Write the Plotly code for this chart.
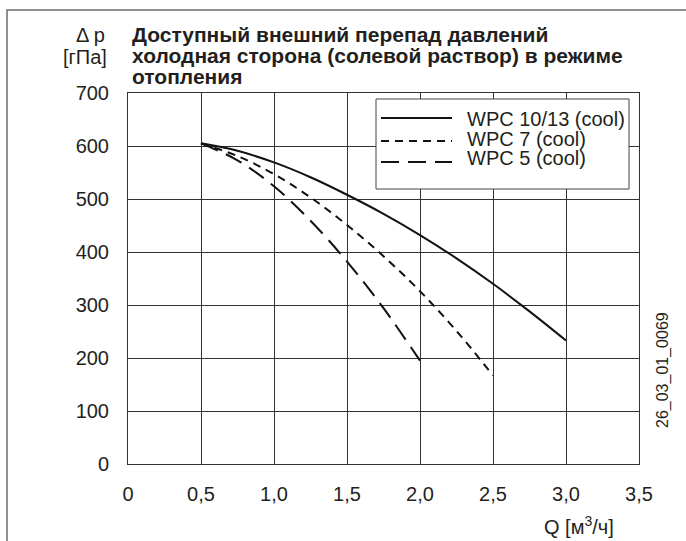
import plotly.graph_objects as go

# Available external pressure drop, cold (brine) side, heating mode
series_names = ["WPC 10/13 (cool)", "WPC 7 (cool)", "WPC 5 (cool)"]

q_wpc10 = [0.5, 0.75, 1.0, 1.25, 1.5, 1.75, 2.0, 2.25, 2.5, 2.75, 3.0]
dp_wpc10 = [605, 591, 569, 541, 508, 472, 432, 388, 340, 288, 233]

q_wpc7 = [0.5, 0.75, 1.0, 1.25, 1.5, 1.75, 2.0, 2.25, 2.5]
dp_wpc7 = [605, 581, 547, 503, 451, 392, 326, 251, 167]

q_wpc5 = [0.5, 0.75, 1.0, 1.25, 1.5, 1.75, 2.0]
dp_wpc5 = [605, 573, 524, 459, 382, 294, 195]

x_tickvals = [0, 0.5, 1.0, 1.5, 2.0, 2.5, 3.0, 3.5]
x_ticktext = ["0", "0,5", "1,0", "1,5", "2,0", "2,5", "3,0", "3,5"]
y_tickvals = [0, 100, 200, 300, 400, 500, 600, 700]
y_ticktext = ["0", "100", "200", "300", "400", "500", "600", "700"]

W, H = 686, 541
L, R, T, B = 128, 639, 93, 464  # plot area in pixels

FONT = "Liberation Sans, Arial, sans-serif"
INK = "#231f20"
GRID = "#333333"
FS = 20
dash_styles = ["solid", "8px,6px", "18px,9px"]


def px(x):
    return (x - L) / (R - L)


def py(y):
    return (B - y) / (B - T)


fig = go.Figure()
for name, q, dp, dash in zip(series_names,
                             [q_wpc10, q_wpc7, q_wpc5],
                             [dp_wpc10, dp_wpc7, dp_wpc5],
                             dash_styles):
    fig.add_trace(go.Scatter(
        x=q, y=dp, name=name, mode="lines",
        line=dict(color="#111111", width=2, dash=dash, shape="spline", smoothing=1.0),
        showlegend=False, hoverinfo="skip",
    ))

shapes = []
annotations = []

# outer frame of the figure
shapes.append(dict(type="rect", xref="paper", yref="paper",
                   x0=px(7), x1=px(W + 20), y0=py(H + 40), y1=py(10),
                   line=dict(color="#6e6e6e", width=1.5), fillcolor="rgba(0,0,0,0)",
                   layer="below"))

# legend box
lg_x0, lg_x1, lg_y0, lg_y1 = 376, 629, 99, 189
shapes.append(dict(type="rect", xref="paper", yref="paper",
                   x0=px(lg_x0), x1=px(lg_x1), y0=py(lg_y1), y1=py(lg_y0),
                   line=dict(color="#444444", width=1), fillcolor="white",
                   layer="above"))
key_rows = [118, 141, 162]
text_rows = [119, 139, 158]
for name, dash, ky, ty in zip(series_names, dash_styles, key_rows, text_rows):
    shapes.append(dict(type="line", xref="paper", yref="paper",
                       x0=px(381), x1=px(452), y0=py(ky), y1=py(ky),
                       line=dict(color="#111111", width=2, dash=dash),
                       layer="above"))
    annotations.append(dict(text=name, xref="paper", yref="paper",
                            x=px(466), y=py(ty), xanchor="left", yanchor="middle",
                            showarrow=False, borderpad=0,
                            font=dict(family=FONT, size=FS, color=INK)))

# axis captions
annotations.append(dict(text="Δ p", xref="paper", yref="paper",
                        x=px(107), y=py(35), xanchor="right", yanchor="middle",
                        showarrow=False, font=dict(family=FONT, size=FS, color=INK)))
annotations.append(dict(text="[гПа]", xref="paper", yref="paper",
                        x=px(109), y=py(57), xanchor="right", yanchor="middle",
                        showarrow=False, font=dict(family=FONT, size=FS, color=INK)))
annotations.append(dict(text="Q [м<sup>3</sup>/ч]", xref="paper", yref="paper",
                        x=px(579), y=py(525), xanchor="center", yanchor="middle",
                        showarrow=False, font=dict(family=FONT, size=FS, color=INK)))

# title lines
title_lines = ["Доступный внешний перепад давлений",
               "холодная сторона (солевой раствор) в режиме",
               "отопления"]
for line, ty in zip(title_lines, [35, 56, 77]):
    annotations.append(dict(text="<b>" + line + "</b>", xref="paper", yref="paper",
                            x=px(131), y=py(ty), xanchor="left", yanchor="middle",
                            showarrow=False, borderpad=0,
                            font=dict(family=FONT, size=21, color=INK)))

# drawing number
annotations.append(dict(text="26_03_01_0069", xref="paper", yref="paper",
                        x=px(663), y=py(370), xanchor="center", yanchor="middle",
                        textangle=-90, showarrow=False,
                        font=dict(family=FONT, size=16, color=INK)))

axis_common = dict(showgrid=True, gridcolor=GRID, gridwidth=1,
                   showline=True, linecolor=GRID, linewidth=1, mirror=True,
                   zeroline=False, ticks="",
                   tickfont=dict(family=FONT, size=FS, color=INK), fixedrange=True)

fig.update_layout(
    width=W, height=H,
    margin=dict(l=L, r=W - R, t=T, b=H - B),
    paper_bgcolor="white", plot_bgcolor="white",
    showlegend=False,
    xaxis=dict(range=[0, 3.5], tickvals=x_tickvals, ticktext=x_ticktext,
               ticklabelstandoff=12, **axis_common),
    yaxis=dict(range=[0, 700], tickvals=y_tickvals, ticktext=y_ticktext,
               ticklabelstandoff=14, **axis_common),
    shapes=shapes,
    annotations=annotations,
)

fig.write_html("out.html")
